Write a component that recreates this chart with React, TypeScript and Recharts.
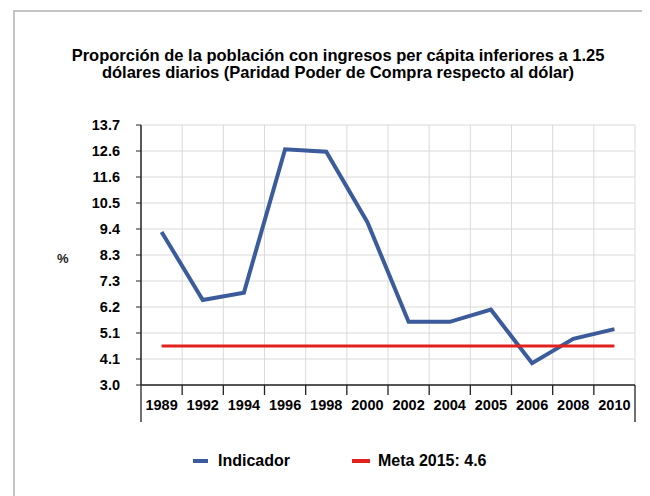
import { LineChart, Line, XAxis, YAxis, CartesianGrid, Legend } from "recharts";

const YEARS = ["1989", "1992", "1994", "1996", "1998", "2000", "2002", "2004", "2005", "2006", "2008", "2010"];
const INDICADOR = [9.3, 6.5, 6.8, 12.7, 12.6, 9.7, 5.6, 5.6, 6.1, 3.9, 4.9, 5.3];
const META = [4.6, 4.6, 4.6, 4.6, 4.6, 4.6, 4.6, 4.6, 4.6, 4.6, 4.6, 4.6];
const Y_TICKS = [3.0, 4.07, 5.14, 6.21, 7.28, 8.35, 9.42, 10.49, 11.56, 12.63, 13.7];

const data = YEARS.map((year, i) => ({ year, indicador: INDICADOR[i], meta: META[i] }));

const FONT = '"Liberation Sans", Arial, sans-serif';
const BLUE = "#3b5b9b";
const RED = "#e2201c";

// chart geometry (chart-local px)
const W = 642;
const H = 488;
const LEGEND_H = 24;
const X_AXIS_H = 50;
const MARGIN = { top: 117, right: 15, bottom: 61 - LEGEND_H, left: 0 };
const Y_AXIS_W = 133;
const PLOT_LEFT = MARGIN.left + Y_AXIS_W;
const PLOT_W = W - PLOT_LEFT - MARGIN.right;
const AXIS_Y = 377;
const BAND = PLOT_W / YEARS.length;

function YearTick({ x, payload, index }: any) {
  const half = BAND / 2;
  const last = index === YEARS.length - 1;
  return (
    <g>
      <line x1={x - half} x2={x - half} y1={AXIS_Y} y2={AXIS_Y + (index === 0 ? 37 : 10)} stroke="#222" strokeWidth={1.3} />
      {last && <line x1={x + half} x2={x + half} y1={AXIS_Y} y2={AXIS_Y + 37} stroke="#222" strokeWidth={1.3} />}
      <text x={x} y={AXIS_Y + 21} textAnchor="middle" dominantBaseline="middle" fill="#000" fontSize={14.5} fontWeight="bold" fontFamily={FONT}>
        {payload.value}
      </text>
    </g>
  );
}

function LegendContent({ payload }: any) {
  const lefts = [185, 344];
  return (
    <div style={{ position: "relative", height: LEGEND_H, fontFamily: FONT, fontWeight: "bold", fontSize: 16 }}>
      {(payload || []).map((p: any, i: number) => (
        <div key={p.value} style={{ position: "absolute", left: lefts[i], top: 0, display: "flex", alignItems: "center", height: LEGEND_H }}>
          <span style={{ display: "inline-block", width: i === 0 ? 15 : 18, height: 4, background: p.color, marginRight: i === 0 ? 10 : 8 }} />
          <span style={{ color: "#000" }}>{p.value}</span>
        </div>
      ))}
    </div>
  );
}

export default function App() {
  return (
    <div style={{ position: "relative", width: W, height: H, overflow: "hidden", background: "#fff", fontFamily: FONT }}>
      <div style={{ position: "absolute", left: 5, top: 2, width: 800, height: 800, border: "2px solid #c4c4c4" }} />
      <div
        style={{
          position: "absolute",
          left: 0,
          width: 660,
          top: 39,
          textAlign: "center",
          fontWeight: "bold",
          fontSize: 16.5,
          lineHeight: "17px",
          color: "#000",
        }}
      >
        Proporción de la población con ingresos per cápita inferiores a 1.25
        <br />
        dólares diarios (Paridad Poder de Compra respecto al dólar)
      </div>
      <div style={{ position: "absolute", left: 49, top: 243, fontSize: 13, fontWeight: "bold", color: "#222" }}>%</div>
      <div style={{ position: "absolute", left: 0, top: 0 }}>
        <LineChart width={W} height={H} data={data} margin={MARGIN}>
          <CartesianGrid
            stroke="#dadada"
            strokeWidth={1}
            verticalCoordinatesGenerator={() => YEARS.map((_, i) => PLOT_LEFT + (i + 1) * BAND)}
          />
          <XAxis
            dataKey="year"
            scale="band"
            interval={0}
            height={X_AXIS_H}
            tickLine={false}
            axisLine={{ stroke: "#222", strokeWidth: 1.5 }}
            tick={<YearTick />}
          />
          <YAxis
            width={Y_AXIS_W}
            domain={[3, 13.7]}
            ticks={Y_TICKS}
            interval={0}
            tickFormatter={(v: number) => v.toFixed(1)}
            tickSize={5}
            tickMargin={16}
            tickLine={{ stroke: "#222" }}
            axisLine={{ stroke: "#222", strokeWidth: 1.5 }}
            tick={{ fill: "#000", fontSize: 14.5, fontWeight: "bold", fontFamily: FONT }}
          />
          <Legend
            content={<LegendContent />}
            wrapperStyle={{ position: "absolute", left: 0, top: 441, width: W, height: LEGEND_H }}
          />
          <Line
            type="linear"
            dataKey="indicador"
            name="Indicador"
            stroke={BLUE}
            strokeWidth={4}
            dot={false}
            isAnimationActive={false}
          />
          <Line
            type="linear"
            dataKey="meta"
            name="Meta 2015: 4.6"
            stroke={RED}
            strokeWidth={3}
            dot={false}
            isAnimationActive={false}
          />
        </LineChart>
      </div>
    </div>
  );
}
